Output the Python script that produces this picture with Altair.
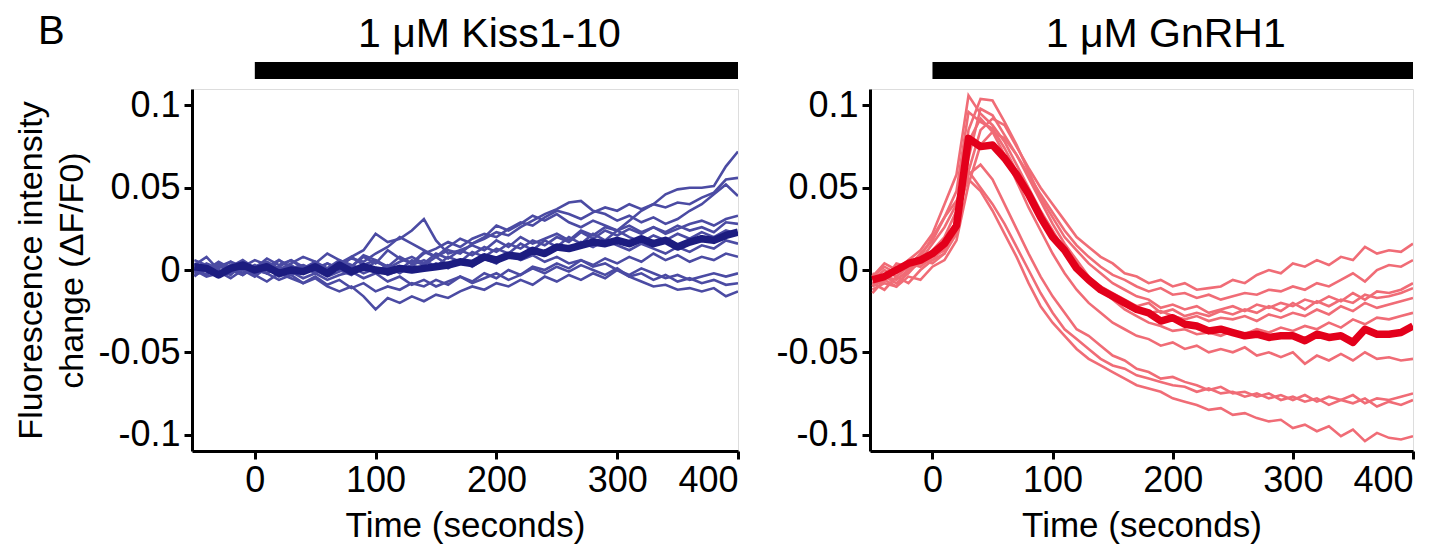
import altair as alt
import pandas as pd

FONT = "Liberation Sans"

TIME = [-50, -40, -30, -20, -10, 0, 10, 20, 30, 40, 50, 60, 70, 80, 90, 100,
        110, 120, 130, 140, 150, 160, 170, 180, 190, 200, 210, 220, 230, 240,
        250, 260, 270, 280, 290, 300, 310, 320, 330, 340, 350, 360, 370, 380,
        390, 400]

X_TICKS = [0, 100, 200, 300, 400]
Y_TICKS = [-0.1, -0.05, 0, 0.05, 0.1]

# ---------------- Kiss1-10 panel ----------------
KISS_TITLE = "1 μM Kiss1-10"
KISS_START, KISS_END = 0, 400

kiss_mean = [0.002, 0.001, -0.003, 0.001, 0.003, 0.000, 0.002, -0.002, 0.000, -0.001,
             0.002, -0.002, 0.003, -0.001, 0.002, 0.000, -0.001, 0.001, 0.000, 0.001,
             0.002, 0.003, 0.005, 0.004, 0.008, 0.006, 0.009, 0.008, 0.012, 0.010,
             0.014, 0.013, 0.015, 0.017, 0.016, 0.018, 0.016, 0.019, 0.016, 0.018,
             0.014, 0.017, 0.019, 0.018, 0.021, 0.023]

kiss_c1 = [0.006, 0.003, -0.002, 0.002, 0.006, 0.001, 0.007, 0.003, 0.006, 0.001,
           0.005, -0.001, 0.004, 0.008, 0.003, 0.006, 0.001, 0.005, 0.008, 0.004,
           0.010, 0.007, 0.012, 0.015, 0.012, 0.018, 0.014, 0.020, 0.016, 0.019,
           0.022, 0.018, 0.024, 0.021, 0.026, 0.024, 0.030, 0.036, 0.040, 0.046,
           0.049, 0.050, 0.050, 0.051, 0.063, 0.072]
kiss_c2 = [0.003, 0.008, 0.000, -0.003, 0.004, 0.001, -0.002, 0.006, 0.002, -0.001,
           0.004, 0.010, 0.006, 0.002, 0.008, 0.004, 0.012, 0.007, 0.004, 0.010,
           0.013, 0.017, 0.014, 0.019, 0.022, 0.020, 0.025, 0.029, 0.027, 0.032,
           0.036, 0.034, 0.031, 0.035, 0.038, 0.036, 0.040, 0.037, 0.040, 0.038,
           0.041, 0.040, 0.044, 0.047, 0.055, 0.056]
kiss_c3 = [-0.002, 0.001, 0.004, 0.000, -0.003, 0.002, 0.004, 0.000, 0.003, -0.002,
           0.001, 0.004, 0.000, -0.003, 0.002, -0.001, 0.003, 0.000, 0.006, 0.003,
           0.008, 0.012, 0.010, 0.016, 0.019, 0.023, 0.021, 0.026, 0.030, 0.034,
           0.037, 0.041, 0.042, 0.036, 0.034, 0.030, 0.033, 0.029, 0.032, 0.028,
           0.031, 0.036, 0.040, 0.046, 0.052, 0.045]
kiss_c4 = [0.001, -0.003, 0.002, 0.005, 0.000, 0.003, -0.002, 0.002, 0.006, 0.002,
           -0.002, 0.001, 0.005, 0.002, 0.009, 0.006, 0.002, 0.008, 0.004, 0.011,
           0.008, 0.014, 0.019, 0.016, 0.020, 0.027, 0.024, 0.028, 0.033, 0.030,
           0.034, 0.029, 0.026, 0.030, 0.027, 0.024, 0.027, 0.023, 0.026, 0.022,
           0.025, 0.028, 0.030, 0.027, 0.031, 0.033]
kiss_c5 = [0.004, 0.001, -0.002, 0.003, 0.000, -0.004, 0.002, 0.006, 0.001, 0.003,
           -0.001, 0.004, 0.001, 0.008, 0.012, 0.022, 0.017, 0.019, 0.024, 0.031,
           0.018, 0.010, 0.012, 0.009, 0.014, 0.011, 0.016, 0.013, 0.018, 0.015,
           0.020, 0.017, 0.023, 0.019, 0.024, 0.021, 0.025, 0.022, 0.026, 0.023,
           0.027, 0.024, 0.026, 0.023, 0.029, 0.028]
kiss_c6 = [-0.003, 0.000, 0.005, 0.001, -0.002, 0.002, 0.005, 0.001, -0.003, 0.001,
           0.004, 0.000, 0.003, 0.007, 0.005, 0.010, 0.014, 0.020, 0.016, 0.012,
           0.008, 0.003, 0.006, 0.002, 0.007, 0.004, 0.010, 0.008, 0.013, 0.011,
           0.015, 0.012, 0.017, 0.014, 0.018, 0.015, 0.012, 0.016, 0.013, 0.010,
           0.014, 0.011, 0.015, 0.013, 0.018, 0.016]
kiss_c7 = [-0.004, 0.002, -0.001, -0.005, 0.000, -0.003, -0.007, -0.002, -0.005, -0.008,
           -0.004, -0.009, -0.006, -0.011, -0.008, -0.013, -0.010, -0.012, -0.008, -0.010,
           -0.006, -0.009, -0.004, -0.007, -0.002, -0.005, 0.000, -0.003, 0.002, 0.000,
           0.004, 0.001, 0.006, 0.003, 0.007, 0.004, 0.008, 0.005, 0.010, 0.006,
           0.009, 0.005, 0.008, 0.006, 0.010, 0.008]
kiss_c8 = [0.000, -0.004, -0.002, 0.001, -0.003, 0.002, -0.002, -0.006, -0.003, -0.008,
           -0.005, -0.010, -0.013, -0.010, -0.016, -0.024, -0.017, -0.020, -0.016, -0.019,
           -0.015, -0.017, -0.013, -0.010, -0.012, -0.008, -0.010, -0.006, -0.009, -0.004,
           -0.007, -0.003, -0.006, -0.002, -0.005, 0.000, -0.003, 0.001, -0.002, -0.005,
           -0.003, -0.006, -0.004, -0.002, -0.004, -0.002]
kiss_c9 = [0.002, -0.001, 0.003, -0.002, 0.001, -0.003, 0.001, -0.004, -0.001, -0.005,
           -0.002, -0.006, -0.003, -0.001, -0.005, -0.002, -0.007, -0.004, -0.009, -0.006,
           -0.010, -0.007, -0.004, -0.008, -0.005, -0.002, -0.006, -0.003, 0.001, -0.002,
           0.002, -0.001, 0.003, 0.000, -0.003, 0.001, -0.004, -0.002, -0.006, -0.003,
           -0.007, -0.005, -0.008, -0.006, -0.009, -0.008]
kiss_c10 = [0.003, 0.000, -0.003, 0.001, 0.004, 0.000, -0.002, 0.002, -0.001, 0.003,
            0.000, -0.004, -0.001, 0.002, -0.002, 0.001, -0.003, 0.000, 0.003, 0.000,
            0.004, 0.001, 0.006, 0.003, 0.008, 0.005, 0.010, 0.006, 0.009, 0.005,
            0.008, 0.004, 0.006, 0.002, 0.004, 0.000, -0.004, -0.007, -0.010, -0.009,
            -0.012, -0.011, -0.013, -0.011, -0.016, -0.013]
kiss_c11 = [-0.001, 0.004, 0.001, 0.005, 0.002, 0.006, 0.003, 0.000, 0.004, 0.008,
            0.005, 0.001, 0.006, 0.003, 0.000, 0.005, 0.002, -0.002, 0.003, 0.006,
            0.002, 0.008, 0.005, 0.011, 0.008, 0.013, 0.010, 0.016, 0.012, 0.018,
            0.014, 0.020, 0.016, 0.022, 0.018, 0.024, 0.020, 0.017, 0.021, 0.018,
            0.022, 0.019, 0.023, 0.020, 0.024, 0.022]

kiss_cells = [kiss_c1, kiss_c2, kiss_c3, kiss_c4, kiss_c5, kiss_c6, kiss_c7,
              kiss_c8, kiss_c9, kiss_c10, kiss_c11]

# ---------------- GnRH1 panel ----------------
GNRH_TITLE = "1 μM GnRH1"
GNRH_START, GNRH_END = 0, 400

gnrh_mean = [-0.006, -0.004, 0.000, 0.004, 0.006, 0.010, 0.016, 0.027, 0.080, 0.075,
             0.076, 0.068, 0.058, 0.046, 0.032, 0.020, 0.012, 0.001, -0.006, -0.012,
             -0.016, -0.020, -0.024, -0.026, -0.031, -0.029, -0.033, -0.034, -0.037, -0.036,
             -0.038, -0.040, -0.039, -0.041, -0.040, -0.040, -0.043, -0.039, -0.041, -0.040,
             -0.044, -0.036, -0.039, -0.039, -0.038, -0.034]

gnrh_c1 = [-0.004, 0.002, -0.002, 0.004, 0.002, 0.008, 0.012, 0.030, 0.060, 0.085,
           0.092, 0.088, 0.075, 0.062, 0.050, 0.040, 0.030, 0.020, 0.014, 0.008,
           0.004, -0.002, -0.004, -0.008, -0.006, -0.010, -0.008, -0.012, -0.011, -0.010,
           -0.006, -0.008, -0.003, 0.000, -0.002, 0.004, 0.002, 0.006, 0.003, 0.008,
           0.006, 0.014, 0.010, 0.012, 0.011, 0.016]
gnrh_c2 = [-0.008, -0.004, -0.006, 0.000, 0.004, 0.006, 0.010, 0.022, 0.068, 0.098,
           0.094, 0.082, 0.070, 0.058, 0.046, 0.035, 0.024, 0.015, 0.008, 0.002,
           -0.003, -0.006, -0.010, -0.013, -0.011, -0.015, -0.014, -0.017, -0.015, -0.018,
           -0.016, -0.014, -0.015, -0.012, -0.013, -0.010, -0.012, -0.008, -0.010, -0.006,
           -0.002, -0.007, 0.000, 0.003, 0.002, 0.006]
gnrh_c3 = [-0.010, -0.006, 0.002, 0.000, 0.006, 0.004, 0.010, 0.030, 0.085, 0.104,
           0.103, 0.090, 0.076, 0.060, 0.044, 0.032, 0.020, 0.012, 0.004, -0.002,
           -0.008, -0.012, -0.016, -0.018, -0.023, -0.021, -0.024, -0.022, -0.026, -0.024,
           -0.022, -0.025, -0.021, -0.023, -0.020, -0.022, -0.018, -0.020, -0.016, -0.019,
           -0.014, -0.018, -0.013, -0.014, -0.012, -0.008]
gnrh_c4 = [-0.002, -0.006, 0.004, 0.002, 0.010, 0.018, 0.032, 0.048, 0.096, 0.090,
           0.086, 0.074, 0.060, 0.046, 0.034, 0.022, 0.010, 0.002, -0.006, -0.010,
           -0.014, -0.018, -0.022, -0.020, -0.026, -0.024, -0.028, -0.026, -0.028, -0.025,
           -0.027, -0.024, -0.026, -0.022, -0.025, -0.020, -0.024, -0.019, -0.022, -0.018,
           -0.020, -0.015, -0.017, -0.016, -0.014, -0.011]
gnrh_c5 = [-0.004, 0.004, 0.000, 0.006, 0.012, 0.022, 0.040, 0.058, 0.106, 0.095,
           0.088, 0.078, 0.064, 0.050, 0.036, 0.024, 0.012, 0.004, -0.004, -0.010,
           -0.016, -0.020, -0.022, -0.026, -0.025, -0.028, -0.030, -0.028, -0.031, -0.029,
           -0.030, -0.028, -0.031, -0.027, -0.029, -0.026, -0.028, -0.024, -0.027, -0.022,
           -0.025, -0.020, -0.023, -0.021, -0.019, -0.017]
gnrh_c6 = [-0.012, -0.008, -0.010, -0.004, -0.006, 0.002, 0.006, 0.018, 0.052, 0.076,
           0.084, 0.080, 0.070, 0.056, 0.042, 0.028, 0.016, 0.006, -0.004, -0.012,
           -0.018, -0.024, -0.028, -0.032, -0.034, -0.037, -0.036, -0.039, -0.038, -0.040,
           -0.037, -0.039, -0.036, -0.038, -0.035, -0.037, -0.034, -0.036, -0.032, -0.035,
           -0.030, -0.033, -0.029, -0.030, -0.028, -0.026]
gnrh_c7 = [-0.006, 0.000, -0.004, 0.002, 0.004, 0.012, 0.020, 0.036, 0.078, 0.092,
           0.084, 0.070, 0.054, 0.038, 0.024, 0.010, -0.002, -0.012, -0.020, -0.026,
           -0.032, -0.036, -0.040, -0.042, -0.046, -0.044, -0.048, -0.046, -0.050, -0.048,
           -0.050, -0.047, -0.052, -0.050, -0.053, -0.050, -0.057, -0.052, -0.055, -0.051,
           -0.055, -0.050, -0.054, -0.053, -0.055, -0.054]
gnrh_c8 = [-0.014, -0.006, -0.010, 0.000, 0.008, 0.020, 0.032, 0.042, 0.060, 0.050,
           0.040, 0.028, 0.014, 0.000, -0.014, -0.026, -0.036, -0.042, -0.048, -0.054,
           -0.058, -0.060, -0.064, -0.066, -0.068, -0.070, -0.071, -0.074, -0.072, -0.075,
           -0.074, -0.077, -0.075, -0.078, -0.076, -0.079, -0.076, -0.080, -0.077, -0.079,
           -0.076, -0.081, -0.078, -0.079, -0.077, -0.075]
gnrh_c9 = [-0.008, -0.012, -0.004, -0.008, 0.000, 0.006, 0.014, 0.030, 0.058, 0.064,
           0.055, 0.040, 0.025, 0.010, -0.004, -0.016, -0.026, -0.036, -0.040, -0.046,
           -0.052, -0.055, -0.060, -0.062, -0.066, -0.065, -0.068, -0.070, -0.073, -0.071,
           -0.075, -0.074, -0.077, -0.075, -0.079, -0.077, -0.080, -0.078, -0.082, -0.079,
           -0.081, -0.078, -0.083, -0.080, -0.082, -0.079]
gnrh_c10 = [-0.010, -0.004, -0.008, -0.002, 0.006, 0.016, 0.026, 0.040, 0.055, 0.048,
            0.036, 0.022, 0.008, -0.008, -0.022, -0.032, -0.040, -0.048, -0.054, -0.058,
            -0.062, -0.066, -0.070, -0.072, -0.074, -0.078, -0.080, -0.082, -0.085, -0.084,
            -0.088, -0.087, -0.090, -0.092, -0.091, -0.096, -0.094, -0.098, -0.095, -0.101,
            -0.097, -0.104, -0.099, -0.102, -0.103, -0.101]

gnrh_cells = [gnrh_c1, gnrh_c2, gnrh_c3, gnrh_c4, gnrh_c5, gnrh_c6, gnrh_c7,
              gnrh_c8, gnrh_c9, gnrh_c10]

Y_TITLE = ["Fluorescence intensity", "change (ΔF/F0)"]
X_TITLE = "Time (seconds)"
PANEL_LABEL = "B"


def cells_df(cells, prefix):
    rows = []
    for i, vals in enumerate(cells):
        for t, v in zip(TIME, vals):
            rows.append({"t": t, "v": v, "trace": f"{prefix}{i}"})
    return pd.DataFrame(rows)


def mean_df(vals):
    return pd.DataFrame({"t": TIME[:len(vals)], "v": vals})


LABEL_EXPR = ("datum.value == 0 ? '0' : (datum.value < 0 ? '-' : '') + "
              "format(abs(datum.value), '.2~f')")


def panel(cells, mean, title, start, end, thin_color, mean_color, show_ytitle,
          prefix, width):
    x_axis = alt.Axis(values=X_TICKS, title=X_TITLE, grid=False, format="d",
                      labelFontSize=36, titleFontSize=35, labelFont=FONT, titleFont=FONT,
                      labelColor="black", titleColor="black", titleFontWeight="normal",
                      domainColor="black", domainWidth=3, tickColor="black", tickWidth=3,
                      tickSize=8, labelPadding=4, titlePadding=10)
    y_kwargs = dict(values=Y_TICKS, grid=False, labelExpr=LABEL_EXPR,
                    labelFontSize=36, labelFont=FONT, labelColor="black",
                    domainColor="black", domainWidth=3, tickColor="black", tickWidth=3,
                    tickSize=8, labelPadding=4)
    if show_ytitle:
        y_axis = alt.Axis(title=Y_TITLE, titleFontSize=34, titleFont=FONT,
                          titleColor="black", titleFontWeight="normal",
                          titleLineHeight=41, titlePadding=8, **y_kwargs)
    else:
        y_axis = alt.Axis(title=None, **y_kwargs)

    xs = alt.Scale(domain=[-52, 400], nice=False, zero=False)
    ys = alt.Scale(domain=[-0.11, 0.11], nice=False, zero=False)

    X = alt.X("t:Q", scale=xs, axis=x_axis)
    Y = alt.Y("v:Q", scale=ys, axis=y_axis)

    thin = alt.Chart(cells_df(cells, prefix)).mark_line(
        color=thin_color, strokeWidth=2.6, clip=True
    ).encode(x=X, y=Y, detail="trace:N")

    thick = alt.Chart(mean_df(mean)).mark_line(
        color=mean_color, strokeWidth=7.5, strokeJoin="round", clip=True
    ).encode(x=X, y=Y)

    bar_data = pd.DataFrame({"start": [start], "end": [end], "label": [title]})
    bar = alt.Chart(bar_data).mark_rect(color="black").encode(
        x=alt.X("start:Q", scale=xs, axis=x_axis), x2="end:Q",
        y=alt.value(-27), y2=alt.value(-10))
    ttl = alt.Chart(bar_data).transform_calculate(
        mid="(datum.start + datum.end) / 2"
    ).mark_text(fontSize=41, font=FONT, color="black", align="center",
                baseline="alphabetic", dx=-7).encode(
        x=alt.X("mid:Q", scale=xs, axis=x_axis), y=alt.value(-42), text="label:N")

    layers = [thin, thick, bar, ttl]
    if show_ytitle:
        lab = alt.Chart(pd.DataFrame({"label": [PANEL_LABEL]})).mark_text(
            fontSize=40, font=FONT, color="black", align="left", baseline="alphabetic"
        ).encode(x=alt.value(-154), y=alt.value(-45), text="label:N")
        layers.append(lab)
    return alt.layer(*layers).properties(width=width, height=362)


left = panel(kiss_cells, kiss_mean, KISS_TITLE, KISS_START, KISS_END,
             "#4b4ba3", "#1c1c80", True, "k", 546)
right = panel(gnrh_cells, gnrh_mean, GNRH_TITLE, GNRH_START, GNRH_END,
              "#f06c76", "#e3001b", False, "g", 543)

chart = alt.hconcat(left, right, spacing=35).properties(
    padding={"left": 6, "top": 3, "right": 0, "bottom": 0}
).configure_view(stroke=None).configure(font=FONT)

chart.save("out.html", embed_options={"renderer": "svg", "actions": False})
